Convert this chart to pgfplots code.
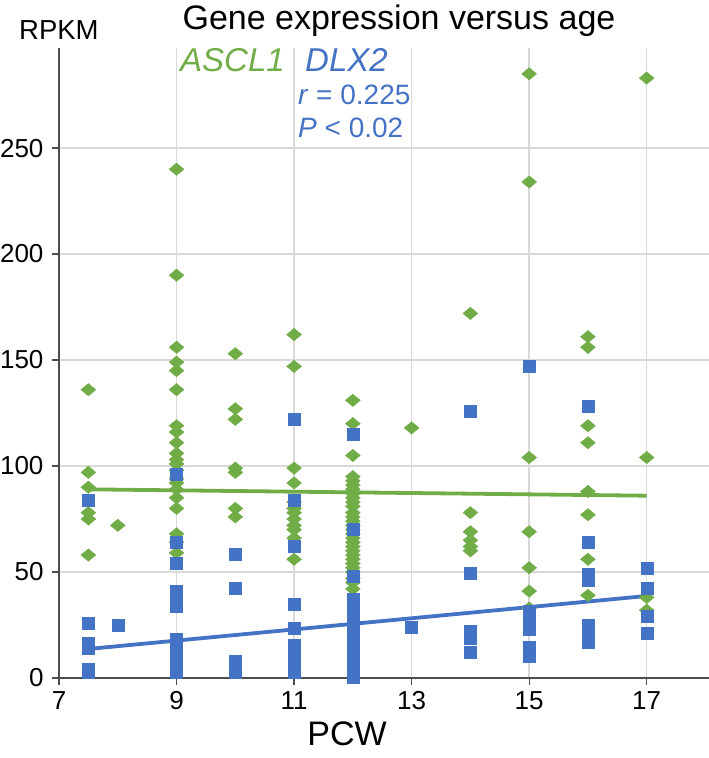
\documentclass[border=0pt]{standalone}
\usepackage{pgfplots}
\pgfplotsset{compat=1.18}
\usepackage{fontspec}
\setmainfont{Liberation Sans}
\definecolor{cgreen}{HTML}{70AD47}
\definecolor{cblue}{HTML}{4472C4}
\definecolor{cgrid}{HTML}{D9D9D9}
\definecolor{caxis}{HTML}{4D4D4D}
\begin{document}
\begin{tikzpicture}
\useasboundingbox (-59pt,-80pt) rectangle (650pt,678pt);
\begin{axis}[
  at={(0pt,0pt)}, anchor=south west,
  scale only axis, width=650pt, height=630pt,
  xmin=7, xmax=18.06, ymin=0, ymax=297.2,
  axis x line=bottom, axis y line=left,
  axis line style={-, caxis, line width=1.4pt},
  xtick={7,9,11,13,15,17}, ytick={0,50,100,150,200,250},
  grid=major, grid style={cgrid, line width=1.4pt},
  tick align=outside, major tick length=7pt,
  tick style={caxis, line width=1.2pt},
  ticklabel style={font=\fontsize{26}{31}\selectfont},
  yticklabel style={xshift=-5pt},
  xticklabel style={yshift=-3pt},
  /pgf/number format/assume math mode=true,
  clip=false,
]
% ASCL1
\addplot[only marks, mark=diamond*, mark size=6.2pt, color=cgreen, mark options={xscale=1.6, draw=cgreen, fill=cgreen}] coordinates {
(7.5,136) (7.5,97) (7.5,90) (7.5,78) (7.5,75) (7.5,58)
(8,72)
(9,240) (9,190) (9,156) (9,149) (9,145) (9,136) (9,119) (9,116) (9,111) (9,106) (9,103) (9,101) (9,98) (9,94) (9,92) (9,89) (9,85) (9,80) (9,68) (9,64) (9,59)
(10,153) (10,127) (10,122) (10,99) (10,97) (10,80) (10,76)
(11,162) (11,147) (11,99) (11,92) (11,83) (11,80) (11,78) (11,75) (11,72) (11,70) (11,66) (11,56)
(12,131) (12,120) (12,105) (12,95) (12,93) (12,91) (12,89) (12,87) (12,85) (12,83) (12,81) (12,78) (12,76) (12,74) (12,72) (12,70) (12,68) (12,66) (12,64) (12,62) (12,60) (12,58) (12,56) (12,54) (12,52) (12,50) (12,47) (12,45) (12,42)
(13,118)
(14,172) (14,78) (14,69) (14,65) (14,62) (14,60)
(15,285) (15,234) (15,104) (15,69) (15,52) (15,41) (15,33)
(16,161) (16,156) (16,119) (16,111) (16,88) (16,77) (16,56) (16,39)
(17,283) (17,104) (17,38) (17,32)
};
% DLX2
\addplot[only marks, mark=square*, mark size=6pt, color=cblue, mark options={draw=cblue, fill=cblue}] coordinates {
(7.5,84) (7.5,26) (7.5,16.5) (7.5,14) (7.5,4.2) (7.5,2.8)
(8,25)
(9,96) (9,64) (9,54) (9,41) (9,38) (9,35) (9,34) (9,18.4) (9,15) (9,12) (9,9) (9,6) (9,2.8)
(10,58.4) (10,42.5) (10,8) (10,5) (10,2.8)
(11,122) (11,84) (11,62) (11,35) (11,23.5) (11,15.6) (11,12) (11,9) (11,6) (11,2.8)
(12,115) (12,70) (12,48) (12,37) (12,35) (12,33) (12,31) (12,29) (12,27) (12,25) (12,23) (12,21) (12,19) (12,17) (12,15) (12,13) (12,11) (12,9) (12,7) (12,5) (12,3) (12,0.5)
(13,24)
(14,126) (14,49.5) (14,22) (14,19) (14,12)
(15,147) (15,31.6) (15,29) (15,26) (15,23) (15,14.6) (15,12) (15,10.4)
(16,128) (16,64) (16,49) (16,46) (16,25) (16,22) (16,19) (16,17)
(17,52) (17,42.5) (17,29) (17,21)
};
% trend lines
\addplot[cgreen, line width=3.8pt, mark=none] coordinates {(7.5,89) (17,86)};
\addplot[cblue, line width=3.8pt, mark=none] coordinates {(7.5,13.7) (17,38.7)};
\end{axis}
\node[anchor=base, inner sep=0pt, font=\fontsize{34}{41}\selectfont] at (340pt,648pt) {Gene expression versus age};
\node[anchor=base west, inner sep=0pt, font=\fontsize{27.5}{33}\selectfont] at (-40pt,638pt) {RPKM};
\node[anchor=base west, inner sep=0pt, text=cgreen, font=\fontsize{33}{40}\selectfont\itshape] at (121pt,606pt) {ASCL1};
\node[anchor=base west, inner sep=0pt, text=cblue, font=\fontsize{33}{40}\selectfont\itshape] at (246pt,606pt) {DLX2};
\node[anchor=base west, inner sep=0pt, text=cblue, font=\fontsize{28}{34}\selectfont] at (239pt,573pt) {\textit{r} = 0.225};
\node[anchor=base west, inner sep=0pt, text=cblue, font=\fontsize{28}{34}\selectfont] at (239pt,540pt) {\textit{P} < 0.02};
\node[anchor=base, inner sep=0pt, font=\fontsize{34}{41}\selectfont] at (288pt,-67pt) {PCW};
\end{tikzpicture}
\end{document}
